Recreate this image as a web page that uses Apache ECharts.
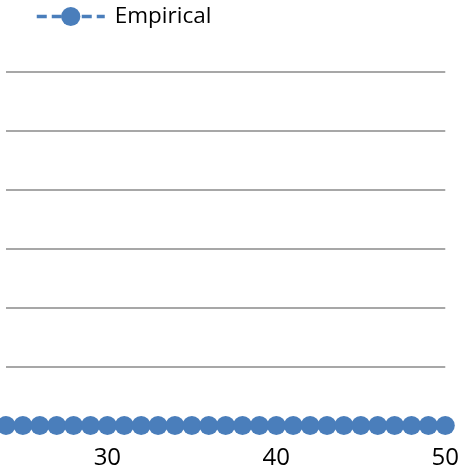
<!DOCTYPE html>
<html>
<head>
<meta charset="utf-8">
<script src="https://cdn.jsdelivr.net/npm/echarts@6/dist/echarts.min.js"></script>
<style>
  html, body { margin: 0; padding: 0; background: #fff; }
  #chart { width: 462px; height: 476px; }
</style>
</head>
<body>
<div id="chart"></div>
<script>
// Empirical series: x positions and values
const xValues = [24, 25, 26, 27, 28, 29, 30, 31, 32, 33, 34, 35, 36, 37, 38, 39, 40, 41, 42, 43, 44, 45, 46, 47, 48, 49, 50];
const empirical = [0, 0, 0, 0, 0, 0, 0, 0, 0, 0, 0, 0, 0, 0, 0, 0, 0, 0, 0, 0, 0, 0, 0, 0, 0, 0, 0];
const xTickLabels = [30, 40, 50];
const seriesName = 'Empirical';

const blue = '#4a7ebb';
const chart = echarts.init(document.getElementById('chart'), null, { renderer: 'canvas' });

chart.setOption({
  animation: false,
  backgroundColor: '#ffffff',
  textStyle: { fontFamily: 'Open Sans' },
  legend: {
    left: 35,
    top: 5,
    padding: 0,
    itemWidth: 68,
    itemHeight: 24,
    data: [seriesName],
    lineStyle: { width: 3.5 },
    textStyle: { fontSize: 22.5, color: '#000', fontFamily: 'Open Sans', padding: [8, 0, 0, 5] }
  },
  grid: { left: 6, right: 14, top: 71.5, bottom: 50.5, containLabel: false },
  xAxis: {
    type: 'value',
    min: 24,
    max: 50,
    axisLine: { show: false },
    axisTick: { show: false },
    splitLine: { show: false },
    axisLabel: {
      customValues: xTickLabels,
      fontSize: 24,
      color: '#000',
      margin: 21,
      lineHeight: 24,
      fontFamily: 'Open Sans'
    }
  },
  yAxis: {
    type: 'value',
    min: 0,
    max: 6,
    interval: 1,
    axisLine: { show: false },
    axisTick: { show: false },
    axisLabel: { show: false },
    splitLine: { show: true, lineStyle: { color: '#8a8a8a', width: 1.6 } }
  },
  series: [{
    name: seriesName,
    type: 'line',
    data: xValues.map((x, i) => [x, empirical[i]]),
    symbol: 'circle',
    symbolSize: 19,
    clip: false,
    itemStyle: { color: blue, borderColor: blue, borderWidth: 0 },
    lineStyle: { color: blue, width: 3.5, type: [10, 5] }
  }]
});
</script>
</body>
</html>
